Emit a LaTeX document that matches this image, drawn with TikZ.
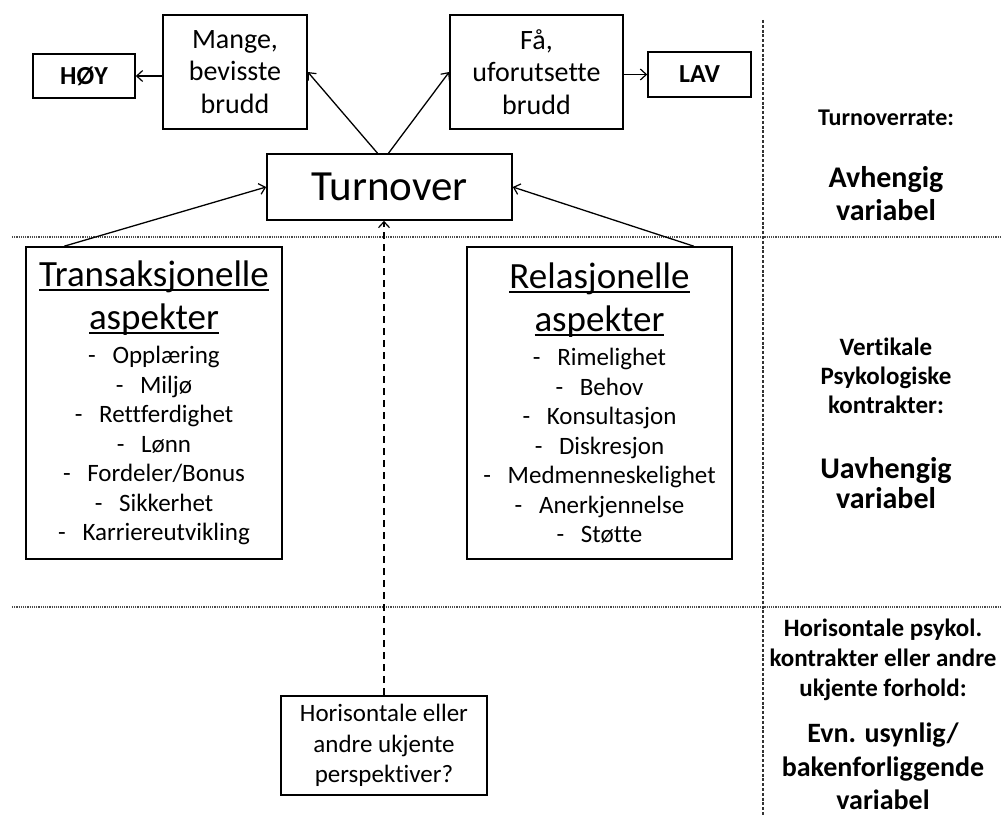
\documentclass[tikz,border=0pt]{standalone}
\usepackage{fontspec}
\setmainfont{Carlito}[Ligatures=NoCommon]
\usetikzlibrary{arrows.meta}

\newcommand{\fs}[2]{\fontsize{#1}{#2}\selectfont}
\newcommand{\understrek}[1]{\leavevmode\setbox0\hbox{#1}\rlap{\vrule height -3pt depth 4.6pt width \wd0}\box0}

\tikzset{
  boks/.style={draw, line width=1.6pt, align=center, inner sep=0pt},
  pil/.style={-{Straight Barb[length=6pt,width=11pt,line width=1.2pt]}, line width=1.3pt},
  skille/.style={gray!60!black, line width=1.3pt, dash pattern=on 1.2pt off 1pt},
  vskille/.style={gray!40!black, line width=1.6pt, dash pattern=on 3pt off 1.8pt},
  etikett/.style={align=center, inner sep=0pt, font=\bfseries\fs{25}{29.5}}
}

\begin{document}
\begin{tikzpicture}[x=1pt, y=-1pt]
    \useasboundingbox (0,0) rectangle (1002,816);

    % Skillelinjer
    \draw[skille] (12,237) -- (1002,237);
    \draw[skille] (12,607) -- (1002,607);
    \draw[vskille] (763,20) -- (763,816);

    % Turnover og bruddtyper
    \node[boks, minimum width=245pt, minimum height=66pt, font=\fs{43}{50}] (turnover) at (389.5,187) {Turnover};
    \node[boks, minimum width=144pt, minimum height=114pt, font=\fs{28}{32.5}] (mange) at (235,72) {Mange,\\bevisste\\brudd};
    \node[boks, minimum width=173pt, minimum height=114pt, font=\fs{28}{32.5}] (faa) at (536.5,72) {Få,\\uforutsette\\brudd};
    \node[boks, minimum width=102pt, minimum height=44pt, font=\bfseries\fs{26}{30}] (hoy) at (84,76) {HØY};
    \node[boks, minimum width=103pt, minimum height=45pt, font=\bfseries\fs{26}{30}] (lav) at (699.5,74.5) {LAV};

    % Aspekter
    \node[boks, minimum width=256pt, minimum height=312pt, text width=256pt, font=\fs{25}{29.5}] (trans) at (154,403) {%
      {\fs{37}{43}\understrek{Transaksjonelle}\\\understrek{aspekter}\par}\vspace{5pt}
      -~~Opplæring\\-~~Miljø\\-~~Rettferdighet\\-~~Lønn\\-~~Fordeler/Bonus\\-~~Sikkerhet\\-~~Karriereutvikling};
    \node[boks, minimum width=265pt, minimum height=312pt, text width=265pt, font=\fs{25}{29.5}] (rel) at (599.5,403) {%
      {\fs{37}{43}\understrek{Relasjonelle}\\\understrek{aspekter}\par}\vspace{5pt}
      -~~Rimelighet\\-~~Behov\\-~~Konsultasjon\\-~~Diskresjon\\-~~Medmenneskelighet\\-~~Anerkjennelse\\-~~Støtte};

    % Ukjente perspektiver
    \node[boks, minimum width=206pt, minimum height=99pt, font=\fs{25}{30.5}] (ukjent) at (384,745.5) {Horisontale eller\\andre ukjente\\perspektiver?};

    % Piler
    \draw[pil] ([xshift=-12pt]turnover.north) -- (mange.east);
    \draw[pil] ([xshift=-1pt]turnover.north) -- (faa.west);
    \draw[pil] (mange.west |- hoy.east) -- (hoy.east);
    \draw[pil] (faa.east |- lav.west) -- (lav.west);
    \draw[pil] ([xshift=39pt]trans.north west) -- (turnover.west);
    \draw[pil] ([xshift=-39pt]rel.north east) -- (turnover.east);
    \draw[pil, dash pattern=on 7pt off 5pt] (ukjent.north) -- (ukjent.north |- turnover.south);

    % Variabler
    \node[etikett, font=\bfseries\fs{24}{29}] (rate) at (886,118) {Turnoverrate:};
    \node[etikett, font=\bfseries\fs{30}{33}] (avh) at (886,193.5) {Avhengig\\variabel};
    \node[etikett, font=\bfseries\fs{25}{29}] (vert) at (886,376) {Vertikale\\Psykologiske\\kontrakter:};
    \node[etikett, font=\bfseries\fs{30}{30}] (uavh) at (886,483) {Uavhengig\\variabel};
    \node[etikett, font=\bfseries\fs{25}{30}] (hor) at (883,660) {Horisontale psykol.\\kontrakter eller andre\\ukjente forhold:};
    \node[etikett, font=\bfseries\fs{28}{33.5}] (evn) at (883,766.5) {Evn. usynlig/\\bakenforliggende\\variabel};
\end{tikzpicture}
\end{document}
